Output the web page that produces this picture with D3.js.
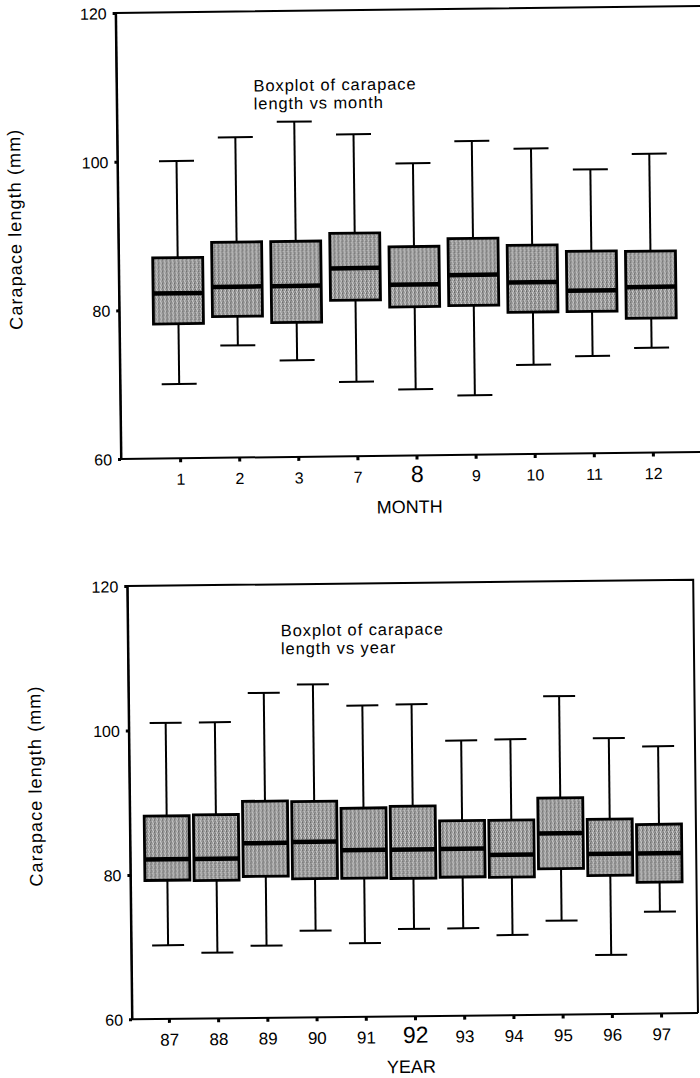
<!DOCTYPE html>
<html><head><meta charset="utf-8">
<script src="https://cdn.jsdelivr.net/npm/d3@7"></script>
<style>
html,body{margin:0;padding:0;background:#fff;}
svg{display:block;}
text{font-family:"Liberation Sans",Arial,sans-serif;fill:#000;}
</style></head>
<body>
<svg id="chart" width="700" height="1078"></svg>
<script>
// ---- data ----
const months = ["1","2","3","7","8","9","10","11","12"];
const monthLow  = [70.0, 75.1, 73.0, 70.0, 68.9, 68.0, 72.0, 73.1, 74.1];
const monthQ1   = [78.1, 79.0, 78.1, 81.0, 80.0, 80.1, 79.1, 79.1, 78.1];
const monthMed  = [82.2, 83.0, 83.0, 85.3, 83.0, 84.2, 83.1, 81.9, 82.3];
const monthQ3   = [87.0, 89.0, 89.0, 90.0, 88.1, 89.1, 88.1, 87.2, 87.1];
const monthHigh = [100.0, 103.1, 105.1, 103.3, 99.3, 102.2, 101.1, 98.2, 100.2];

const years = ["87","88","89","90","91","92","93","94","95","96","97"];
const yearLow  = [70.2, 69.1, 70.0, 72.0, 70.2, 72.1, 72.1, 71.1, 73.0, 68.2, 74.1];
const yearQ1   = [79.2, 79.1, 79.6, 79.2, 79.2, 79.1, 79.2, 79.1, 80.2, 79.2, 78.2];
const yearMed  = [82.1, 82.1, 84.2, 84.3, 83.1, 83.1, 83.1, 82.2, 85.1, 82.2, 82.2];
const yearQ3   = [88.1, 88.2, 90.0, 89.9, 88.9, 89.1, 87.0, 87.0, 90.0, 87.0, 86.2];
const yearHigh = [101.0, 101.0, 105.0, 106.1, 103.1, 103.2, 98.1, 98.2, 104.1, 98.2, 97.0];

const yTicks = [60, 80, 100, 120];
const yTitle = "Carapace length (mm)";

const svg = d3.select("#chart");

// stipple texture for boxes
const defs = svg.append("defs");
const pat = defs.append("pattern").attr("id","stipple").attr("patternUnits","userSpaceOnUse")
  .attr("width",4).attr("height",4);
pat.append("rect").attr("width",4).attr("height",4).attr("fill","#999999");
[[0,0,"#606060"],[2,1,"#d0d0d0"],[1,2,"#707070"],[3,3,"#d8d8d8"],[3,0,"#bcbcbc"],[0,3,"#7a7a7a"],[2,2,"#c4c4c4"]]
  .forEach(([x,y,c]) => pat.append("rect").attr("x",x).attr("y",y).attr("width",1).attr("height",1).attr("fill",c));

function panel(cfg) {
  const g = svg.append("g").attr("transform", `rotate(${cfg.angle},${cfg.x0},${cfg.y0})`);
  const x = d3.scalePoint().domain(cfg.cats).range([cfg.x0, cfg.x1]).padding(cfg.pad);
  const y = d3.scaleLinear().domain([60,120]).range([cfg.y0, cfg.yTop]);

  // frame
  g.append("path")
    .attr("d", `M${cfg.x0},${cfg.y0}V${cfg.yTop}H${cfg.x1}` + (cfg.rightBorder ? `V${cfg.y0}` : ""))
    .attr("fill","none").attr("stroke","#000").attr("stroke-width",2);

  // axes
  const ya = g.append("g").attr("transform",`translate(${cfg.x0},0)`)
    .call(d3.axisLeft(y).tickValues(yTicks).tickSize(3).tickSizeOuter(0).tickPadding(6));
  ya.select(".domain").attr("stroke-width",2);
  ya.selectAll(".tick line").attr("stroke-width",3);
  ya.selectAll(".tick text").attr("font-size",16).attr("dy","0.36em");

  const xa = g.append("g").attr("transform",`translate(0,${cfg.y0})`)
    .call(d3.axisBottom(x).tickSize(4).tickSizeOuter(0).tickPadding(10));
  xa.select(".domain").attr("d", `M${cfg.x0},0H${cfg.x1}`).attr("stroke-width",2);
  xa.selectAll(".tick line").attr("stroke-width",3);
  xa.selectAll(".tick text").attr("dy",null).attr("y",cfg.labelBase)
    .attr("font-size", d => d === cfg.big ? cfg.bigSize : cfg.tickSize);

  // boxes
  const data = cfg.cats.map((c,i) => ({c, lo:cfg.lo[i], q1:cfg.q1[i], med:cfg.med[i], q3:cfg.q3[i], hi:cfg.hi[i]}));
  const bw = cfg.boxW, cw = cfg.capW;
  const b = g.append("g").selectAll("g").data(data).join("g");
  b.append("line").attr("x1",d=>x(d.c)).attr("x2",d=>x(d.c)).attr("y1",d=>y(d.hi)).attr("y2",d=>y(d.q3))
    .attr("stroke","#000").attr("stroke-width",2);
  b.append("line").attr("x1",d=>x(d.c)).attr("x2",d=>x(d.c)).attr("y1",d=>y(d.q1)).attr("y2",d=>y(d.lo))
    .attr("stroke","#000").attr("stroke-width",2);
  b.append("line").attr("x1",d=>x(d.c)-cw/2).attr("x2",d=>x(d.c)+cw/2).attr("y1",d=>y(d.hi)).attr("y2",d=>y(d.hi))
    .attr("stroke","#000").attr("stroke-width",2);
  b.append("line").attr("x1",d=>x(d.c)-cw/2).attr("x2",d=>x(d.c)+cw/2).attr("y1",d=>y(d.lo)).attr("y2",d=>y(d.lo))
    .attr("stroke","#000").attr("stroke-width",2);
  b.append("rect").attr("x",d=>x(d.c)-bw/2).attr("width",bw)
    .attr("y",d=>y(d.q3)).attr("height",d=>y(d.q1)-y(d.q3))
    .attr("fill","url(#stipple)").attr("stroke","#000").attr("stroke-width",2.8);
  b.append("line").attr("x1",d=>x(d.c)-bw/2).attr("x2",d=>x(d.c)+bw/2).attr("y1",d=>y(d.med)).attr("y2",d=>y(d.med))
    .attr("stroke","#000").attr("stroke-width",4.5);

  // titles
  g.append("text").attr("x",cfg.titleX).attr("y",cfg.titleY).attr("font-size",16.5)
    .attr("letter-spacing",0.9).text(cfg.title1);
  g.append("text").attr("x",cfg.titleX).attr("y",cfg.titleY+18).attr("font-size",16.5)
    .attr("letter-spacing",0.9).text(cfg.title2);
  g.append("text").attr("x",cfg.xTitleX).attr("y",cfg.xTitleY).attr("text-anchor","middle").attr("font-size",18).text(cfg.xTitle);
  g.append("text").attr("transform",`translate(${cfg.yTitleX},${cfg.yTitleY}) rotate(-90)`)
    .attr("text-anchor","middle").attr("font-size",18).attr("letter-spacing",1.1).text(yTitle);
}

panel({
  cats: months, lo: monthLow, q1: monthQ1, med: monthMed, q3: monthQ3, hi: monthHigh,
  angle: -0.69, x0: 121, x1: 712, y0: 459, yTop: 13, pad: 1, rightBorder: false,
  boxW: 50, capW: 35, labelBase: 26.5, tickSize: 16, big: "8", bigSize: 23,
  title1: "Boxplot of carapace", title2: "length vs month", titleX: 258, titleY: 93,
  xTitle: "MONTH", xTitleX: 409, xTitleY: 516.5, yTitleX: 24, yTitleY: 228
});

panel({
  cats: years, lo: yearLow, q1: yearQ1, med: yearMed, q3: yearQ3, hi: yearHigh,
  angle: -0.63, x0: 132, x1: 698, y0: 1019.3, yTop: 586, pad: 0.75, rightBorder: true,
  boxW: 45, capW: 32, labelBase: 26.7, tickSize: 17, big: "92", bigSize: 23,
  title1: "Boxplot of carapace", title2: "length vs year", titleX: 285, titleY: 638,
  xTitle: "YEAR", xTitleX: 411, xTitleY: 1076, yTitleX: 44, yTitleY: 785
});
</script>
</body></html>
